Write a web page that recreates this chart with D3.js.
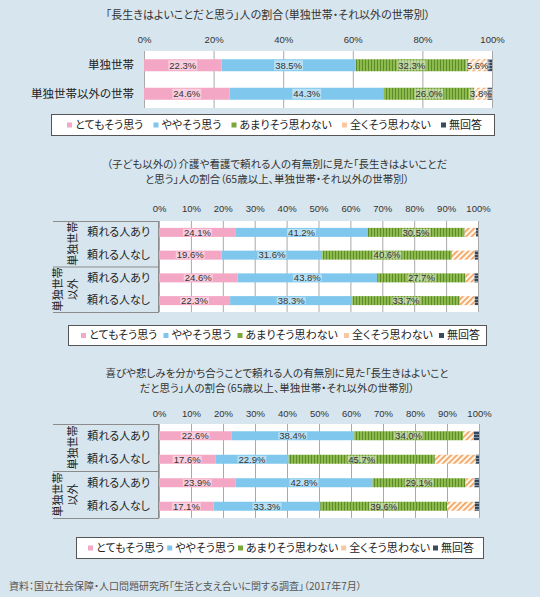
<!DOCTYPE html>
<html>
<head>
<meta charset="utf-8">
<script src="https://cdn.jsdelivr.net/npm/d3@7"></script>
<style>
  body { margin: 0; background: #d7e5ee; }
  svg { display: block; font-family: 'Noto Sans CJK JP', sans-serif; font-feature-settings: "palt"; }
</style>
</head>
<body>
<script>
// ---- data ----
const categories = ['とてもそう思う', 'ややそう思う', 'あまりそう思わない', '全くそう思わない', '無回答'];

const householdRows = ['単独世帯', '単独世帯以外の世帯'];
const householdValues = [
  [22.3, 38.5, 32.3, 5.6, 1.3],
  [24.6, 44.3, 26.0, 3.8, 1.3]
];

const supportRows = ['頼れる人あり', '頼れる人なし', '頼れる人あり', '頼れる人なし'];
const supportGroups = [['単独世帯'], ['単独世帯', '以外']];

const careValues = [
  [24.1, 41.2, 30.5, 3.6, 0.6],
  [19.6, 31.6, 40.6, 7.2, 1.0],
  [24.6, 43.8, 27.7, 2.8, 1.1],
  [22.3, 38.3, 33.7, 4.7, 1.0]
];

const shareValues = [
  [22.6, 38.4, 34.0, 3.4, 1.6],
  [17.6, 22.9, 45.7, 12.8, 1.0],
  [23.9, 42.8, 29.1, 2.8, 1.4],
  [17.1, 33.3, 39.6, 8.7, 1.3]
];

const ticksBy20 = [0, 20, 40, 60, 80, 100];
const ticksBy10 = [0, 10, 20, 30, 40, 50, 60, 70, 80, 90, 100];

const titleHousehold = ['「長生きはよいことだと思う」人の割合（単独世帯・それ以外の世帯別）'];
const titleCare = ['（子ども以外の）介護や看護で頼れる人の有無別に見た「長生きはよいことだ',
                   'と思う」人の割合（65歳以上、単独世帯・それ以外の世帯別）'];
const titleShare = ['喜びや悲しみを分かち合うことで頼れる人の有無別に見た「長生きはよいこと',
                    'だと思う」人の割合（65歳以上、単独世帯・それ以外の世帯別）'];
const sourceNote = '資料：国立社会保障・人口問題研究所「生活と支え合いに関する調査」（2017年7月）';

// ---- styles ----
const fills = ['#f4a7c4', '#7fc7ec', 'url(#green)', 'url(#hatch)', 'url(#navy)'];
const markFills = ['#f2a9c5', '#80c6ea', '#78a83a', '#f6c7a0', '#3b4a5c'];
const numFont = "'Liberation Sans Narrow', 'Liberation Sans', sans-serif";

const svg = d3.select('body').append('svg')
  .attr('width', 540)
  .attr('height', 597);

const defs = svg.append('defs');

const green = defs.append('pattern').attr('id', 'green')
  .attr('patternUnits', 'userSpaceOnUse').attr('width', 3).attr('height', 10);
green.append('rect').attr('width', 3).attr('height', 10).attr('fill', '#8dba4c');
green.append('rect').attr('x', 2).attr('width', 1).attr('height', 10).attr('fill', '#5e8b2c');

const hatch = defs.append('pattern').attr('id', 'hatch')
  .attr('patternUnits', 'userSpaceOnUse').attr('width', 4).attr('height', 4)
  .attr('patternTransform', 'rotate(45)');
hatch.append('rect').attr('width', 4).attr('height', 4).attr('fill', '#fff6ec');
hatch.append('rect').attr('width', 1.6).attr('height', 4).attr('fill', '#f09c55');

const navy = defs.append('pattern').attr('id', 'navy')
  .attr('patternUnits', 'userSpaceOnUse').attr('width', 2).attr('height', 3);
navy.append('rect').attr('width', 2).attr('height', 3).attr('fill', '#34465c');
navy.append('rect').attr('y', 2).attr('width', 2).attr('height', 1).attr('fill', '#8a98a8');

function drawTitle(lines, cx, ys, size) {
  svg.append('g').selectAll('text')
    .data(lines)
    .join('text')
    .attr('x', cx)
    .attr('y', (d, i) => ys[i])
    .attr('text-anchor', 'middle')
    .attr('dy', '0.35em')
    .attr('font-size', size)
    .attr('fill', '#333')
    .text(d => d);
}

function drawChart(cfg) {
  const x = d3.scaleLinear().domain([0, 100]).range([cfg.x0, cfg.x1]);
  const y = d3.scaleBand().domain(d3.range(cfg.values.length)).range([cfg.top, cfg.bottom]);
  const g = svg.append('g');

  // plot background
  g.append('rect')
    .attr('x', cfg.x0).attr('y', cfg.top)
    .attr('width', cfg.x1 - cfg.x0).attr('height', cfg.bottom - cfg.top)
    .attr('fill', '#fff');

  // grid
  const grid = g.append('g')
    .attr('transform', `translate(0,${cfg.top})`)
    .call(d3.axisBottom(x).tickValues(cfg.ticks).tickSize(cfg.bottom - cfg.top).tickFormat(''));
  grid.select('.domain').remove();
  grid.selectAll('line').attr('stroke', '#a9a9a9');

  // tick labels
  const ax = g.append('g')
    .attr('transform', `translate(0,${cfg.tickY})`)
    .call(d3.axisTop(x).tickValues(cfg.ticks).tickSize(0).tickPadding(0).tickFormat(d => d + '%'));
  ax.select('.domain').remove();
  ax.selectAll('text')
    .attr('y', 0).attr('dy', '0.35em')
    .attr('font-family', numFont).attr('font-size', 9.5).attr('fill', '#333');

  // stacked bars
  const rows = g.selectAll('g.row')
    .data(cfg.values)
    .join('g')
    .attr('class', 'row');

  rows.each(function (vals, ri) {
    const starts = d3.cumsum([0].concat(vals)).slice(0, vals.length);
    const segs = vals.map((v, ci) => ({ v, ci, s: starts[ci] }));
    const cy = y(ri) + y.bandwidth() / 2;
    const row = d3.select(this);

    row.selectAll('rect.seg')
      .data(segs)
      .join('rect')
      .attr('class', 'seg')
      .attr('x', d => x(d.s))
      .attr('y', cy - cfg.barH / 2)
      .attr('width', d => x(d.s + d.v) - x(d.s))
      .attr('height', cfg.barH)
      .attr('fill', d => fills[d.ci]);

    const lab = row.selectAll('g.lab')
      .data(segs.filter(d => d.ci < cfg.labelCount))
      .join('g')
      .attr('class', 'lab')
      .attr('transform', d => `translate(${x(d.s + d.v / 2)},${cy})`);
    lab.append('rect').attr('class', 'bg');
    lab.append('text')
      .attr('text-anchor', 'middle')
      .attr('dy', '0.35em')
      .attr('font-family', numFont)
      .attr('font-size', 9.5)
      .attr('fill', '#333')
      .text(d => d.v.toFixed(1) + '%');
    lab.each(function () {
      const t = d3.select(this).select('text');
      const w = t.node().getComputedTextLength();
      d3.select(this).select('rect.bg')
        .attr('x', -w / 2 - 1).attr('y', -cfg.barH / 2 + 1)
        .attr('width', w + 2).attr('height', cfg.barH - 2)
        .attr('fill', '#fff').attr('opacity', 0.45);
    });
  });

  // row labels
  if (cfg.rowLabels) {
    g.append('g').selectAll('text')
      .data(cfg.rowLabels)
      .join('text')
      .attr('x', cfg.rowLabelX)
      .attr('y', (d, i) => y(i) + y.bandwidth() / 2)
      .attr('dy', '0.35em')
      .attr('text-anchor', 'end')
      .attr('font-size', cfg.rowFont)
      .attr('fill', '#222')
      .text(d => d);
  }

  // grouped label table
  if (cfg.groups) {
    const gy = [cfg.top, y(2), cfg.bottom];
    g.append('g').selectAll('line')
      .data(gy)
      .join('line')
      .attr('x1', cfg.tableX).attr('x2', cfg.x0)
      .attr('y1', d => d + 0.5).attr('y2', d => d + 0.5)
      .attr('stroke', '#8c8c8c');
    g.append('line')
      .attr('x1', cfg.x0 - 0.5).attr('x2', cfg.x0 - 0.5)
      .attr('y1', cfg.top).attr('y2', cfg.bottom)
      .attr('stroke', '#8c8c8c');

    cfg.groups.forEach((lines, gi) => {
      const cy = (gy[gi] + gy[gi + 1]) / 2;
      const colX = lines.length === 1 ? [73] : [58, 73];
      lines.forEach((txt, li) => {
        g.append('text')
          .attr('transform', `translate(${colX[li]},${cy}) rotate(-90)`)
          .attr('text-anchor', 'middle')
          .attr('dy', '0.35em')
          .attr('font-size', 11)
          .attr('fill', '#222')
          .text(txt);
      });
    });
  }

  // legend
  const L = cfg.legend;
  g.append('rect')
    .attr('x', L.x + 0.5).attr('y', L.y + 0.5)
    .attr('width', L.w).attr('height', L.h)
    .attr('fill', '#fff').attr('stroke', '#555');
  const items = g.append('g').selectAll('g')
    .data(categories)
    .join('g');
  items.append('rect')
    .attr('width', 5).attr('height', 5)
    .attr('y', -2.5)
    .attr('fill', (d, i) => markFills[i]);
  items.append('text')
    .attr('x', 8)
    .attr('dy', '0.35em')
    .attr('font-size', 11)
    .attr('fill', '#222')
    .text(d => d);
  const widths = items.nodes().map(n => 8 + d3.select(n).select('text').node().getComputedTextLength());
  const gap = (L.end - L.start - d3.sum(widths)) / (widths.length - 1);
  let cx = L.start;
  items.each(function (d, i) {
    d3.select(this).attr('transform', `translate(${cx},${L.y + L.h / 2 + 0.5})`);
    cx += widths[i] + gap;
  });
}

// ---- chart 1 ----
drawTitle(titleHousehold, 268, [15], 11);
drawChart({
  values: householdValues, rowLabels: householdRows, rowLabelX: 134, rowFont: 11.5,
  x0: 144, x1: 492, top: 51, bottom: 108, barH: 12,
  ticks: ticksBy20, tickY: 40, labelCount: 4,
  legend: { x: 51, y: 114, w: 443, h: 21, start: 67, end: 482 }
});

// ---- chart 2 ----
drawTitle(titleCare, 277, [164, 179.5], 10.5);
drawChart({
  values: careValues, rowLabels: supportRows, rowLabelX: 150, rowFont: 11,
  groups: supportGroups, tableX: 53,
  x0: 159, x1: 478, top: 221, bottom: 312, barH: 9,
  ticks: ticksBy10, tickY: 209, labelCount: 3,
  legend: { x: 68, y: 325, w: 418, h: 20, start: 81, end: 480 }
});

// ---- chart 3 ----
drawTitle(titleShare, 277, [373, 388.5], 10.5);
drawChart({
  values: shareValues, rowLabels: supportRows, rowLabelX: 150, rowFont: 11,
  groups: supportGroups, tableX: 53,
  x0: 159, x1: 479, top: 424, bottom: 518, barH: 9,
  ticks: ticksBy10, tickY: 414, labelCount: 3,
  legend: { x: 76, y: 537, w: 407, h: 21, start: 88, end: 474 }
});

svg.append('text')
  .attr('x', 9).attr('y', 586)
  .attr('dy', '0.35em')
  .attr('font-size', 10)
  .attr('fill', '#555')
  .text(sourceNote);
</script>
</body>
</html>
